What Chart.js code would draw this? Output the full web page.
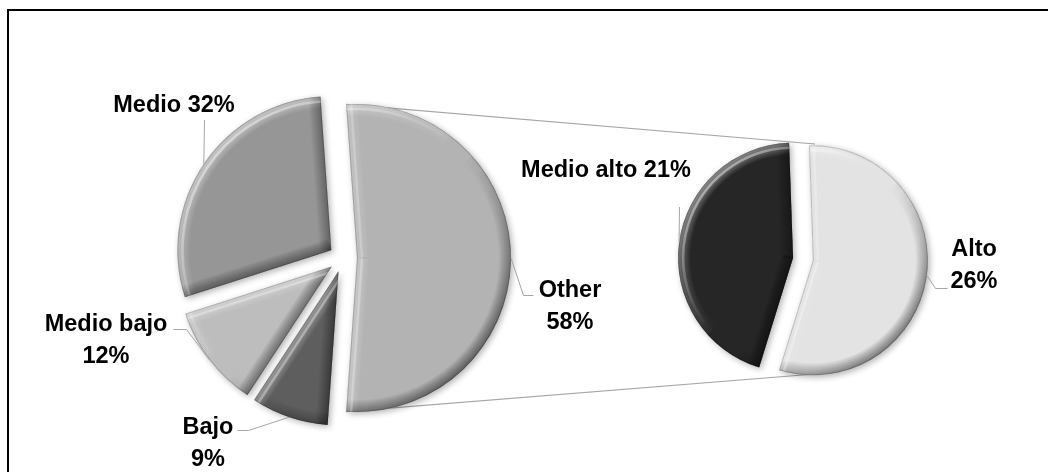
<!DOCTYPE html>
<html>
<head>
<meta charset="utf-8">
<script src="https://cdn.jsdelivr.net/npm/chart.js@4.4.1/dist/chart.umd.min.js"></script>
<style>
  html, body { margin: 0; padding: 0; background: #fff; overflow: hidden; }
  #wrap { position: relative; width: 1048px; height: 472px; overflow: hidden; }
  #wrap canvas { position: absolute; left: 0; top: 0; }
  #frame { position: absolute; left: 7px; top: 9px; width: 1100px; height: 520px; border: 2px solid #000; }
</style>
</head>
<body>
<div id="wrap">
  <div id="frame"></div>
  <canvas id="mainPie" width="1048" height="472"></canvas>
  <canvas id="splitPie" width="1048" height="472"></canvas>
</div>
<script>
// main pie, "Other" gets broken out into the small pie
const mainLabels = ['Other', 'Bajo', 'Medio bajo', 'Medio'];
const mainValues = [58, 9, 12, 32];
const mainColors = ['#b3b3b3', '#5e5e5e', '#bdbdbd', '#969696'];

// breakdown of "Other"
const splitLabels = ['Alto', 'Medio alto'];
const splitValues = [26, 21];
const splitColors = ['#e3e3e3', '#262626'];

const LABEL_FONT = 'bold 23.5px "Liberation Sans", Arial, sans-serif';
const LINE_GREY = '#a6a6a6';

// label spots, one per slice (same order as the labels arrays)
const mainLabelSpots = [
  { x: 570, y: 297, leader: [[523.5, 295.5], [533.5, 295.5]] },
  { x: 208, y: 434, leader: [[248.5, 430.5], [237.5, 430.5]] },
  { x: 106, y: 331, leader: [[186.5, 329.5], [173.5, 329.5]] },
  { x: 174, y: 112, inline: true, leader: [[204.5, 120]] }
];
const splitLabelSpots = [
  { x: 974, y: 256, leader: [[935.5, 288.5], [947.5, 288.5]] },
  { x: 606, y: 177, inline: true, leader: [[679.5, 207]] }
];

// bevel look: light from the upper left on the rim and on both straight edges,
// built up from many thin translucent strokes so the ramp stays soft
const BEVEL_DEPTH = 12;
const BEVEL_STEPS = 12;
const BEVEL_STRENGTH = 0.6;
const GLINT_INSET = 5;

function bevel(ctx, arc) {
  const { x, y, startAngle: a0, endAngle: a1, outerRadius: r } = arc;
  ctx.save();
  ctx.beginPath();
  ctx.moveTo(x, y);
  ctx.arc(x, y, r, a0, a1);
  ctx.closePath();
  ctx.clip();

  const k = r * Math.SQRT1_2;
  const edges = [
    [a0, Math.sin(a0), -Math.cos(a0)],
    [a1, -Math.sin(a1), Math.cos(a1)]
  ];
  const a = BEVEL_STRENGTH / BEVEL_STEPS;
  const rim = ctx.createLinearGradient(x - k, y - k, x + k, y + k);
  rim.addColorStop(0, `rgba(255,255,255,${a})`);
  rim.addColorStop(0.5, 'rgba(255,255,255,0)');
  rim.addColorStop(0.5, 'rgba(0,0,0,0)');
  rim.addColorStop(1, `rgba(0,0,0,${a})`);

  for (let s = BEVEL_STEPS; s >= 1; s--) {
    ctx.lineWidth = 2 * BEVEL_DEPTH * s / BEVEL_STEPS;
    ctx.strokeStyle = rim;
    ctx.beginPath();
    ctx.arc(x, y, r, a0, a1);
    ctx.stroke();
    for (const [ang, nx, ny] of edges) {
      const lit = -(nx + ny) * Math.SQRT1_2;
      ctx.strokeStyle = lit > 0
        ? `rgba(255,255,255,${a * lit * 0.8})`
        : `rgba(0,0,0,${-a * lit * 0.8})`;
      ctx.beginPath();
      ctx.moveTo(x, y);
      ctx.lineTo(x + r * Math.cos(ang), y + r * Math.sin(ang));
      ctx.stroke();
    }
  }

  // thin glint a few pixels inside the lit edges
  const glint = ctx.createLinearGradient(x - k, y - k, x + k, y + k);
  glint.addColorStop(0, 'rgba(255,255,255,0.45)');
  glint.addColorStop(0.45, 'rgba(255,255,255,0)');
  glint.addColorStop(1, 'rgba(255,255,255,0)');
  ctx.lineWidth = 2.5;
  ctx.strokeStyle = glint;
  ctx.beginPath();
  ctx.arc(x, y, r - GLINT_INSET, a0, a1);
  ctx.stroke();
  for (const [ang, nx, ny] of edges) {
    const lit = -(nx + ny) * Math.SQRT1_2;
    if (lit <= 0) continue;
    ctx.strokeStyle = `rgba(255,255,255,${0.35 * lit})`;
    ctx.beginPath();
    ctx.moveTo(x - GLINT_INSET * nx, y - GLINT_INSET * ny);
    ctx.lineTo(x + r * Math.cos(ang) - GLINT_INSET * nx, y + r * Math.sin(ang) - GLINT_INSET * ny);
    ctx.stroke();
  }

  ctx.lineWidth = 2;
  ctx.strokeStyle = 'rgba(0,0,0,0.18)';
  ctx.beginPath();
  ctx.moveTo(x, y);
  ctx.arc(x, y, r, a0, a1);
  ctx.closePath();
  ctx.stroke();
  ctx.restore();
}

const explodePlugin = {
  id: 'explode',
  afterUpdate(chart, args, opts) {
    const { left, right, top, bottom } = chart.chartArea;
    const cx = (left + right) / 2, cy = (top + bottom) / 2;
    chart.getDatasetMeta(0).data.forEach(arc => {
      const mid = (arc.startAngle + arc.endAngle) / 2;
      arc.x = cx + opts.distance * Math.cos(mid);
      arc.y = cy + opts.distance * Math.sin(mid);
    });
  },
  beforeDatasetsDraw(chart) {
    const ctx = chart.ctx;
    ctx.save();
    ctx.shadowColor = 'rgba(0,0,0,0.3)';
    ctx.shadowBlur = 6;
    ctx.shadowOffsetX = 2;
    ctx.shadowOffsetY = 2;
  },
  afterDatasetsDraw(chart) {
    const ctx = chart.ctx;
    ctx.restore();
    chart.getDatasetMeta(0).data.forEach(arc => bevel(ctx, arc));
  }
};

const labelPlugin = {
  id: 'sliceLabels',
  afterDraw(chart, args, opts) {
    const ctx = chart.ctx;
    const names = chart.data.labels;
    const values = chart.data.datasets[0].data;
    ctx.save();
    chart.getDatasetMeta(0).data.forEach((arc, i) => {
      const spot = opts.spots[i];
      const mid = (arc.startAngle + arc.endAngle) / 2;
      const r = arc.outerRadius;
      ctx.strokeStyle = LINE_GREY;
      ctx.lineWidth = 1;
      ctx.beginPath();
      ctx.moveTo(arc.x + r * Math.cos(mid), arc.y + r * Math.sin(mid));
      spot.leader.forEach(([lx, ly]) => ctx.lineTo(lx, ly));
      ctx.stroke();

      ctx.fillStyle = '#000';
      ctx.font = LABEL_FONT;
      ctx.textAlign = 'center';
      ctx.textBaseline = 'alphabetic';
      const pct = values[i] + '%';
      if (spot.inline) {
        ctx.fillText(names[i] + ' ' + pct, spot.x, spot.y);
      } else {
        ctx.fillText(names[i], spot.x, spot.y);
        ctx.fillText(pct, spot.x, spot.y + 32);
      }
    });
    ctx.restore();
  }
};

// the small pie is built first so the big one can link to it
const splitChart = new Chart(document.getElementById('splitPie'), {
  type: 'pie',
  data: {
    labels: splitLabels,
    datasets: [{ data: splitValues, backgroundColor: splitColors, borderWidth: 0 }]
  },
  options: {
    responsive: false,
    animation: false,
    events: [],
    radius: 115,
    rotation: -2,
    layout: { padding: { left: 558, top: 46 } },
    plugins: {
      legend: { display: false },
      tooltip: { enabled: false },
      explode: { distance: 10 },
      sliceLabels: { spots: splitLabelSpots }
    }
  },
  plugins: [explodePlugin, labelPlugin]
});

// grey lines from the "Other" slice corners to the top and bottom of the small pie
const connectorPlugin = {
  id: 'connectors',
  beforeDatasetsDraw(chart) {
    const ctx = chart.ctx;
    const other = chart.getDatasetMeta(0).data[0];
    const r = other.outerRadius;
    const area = splitChart.chartArea;
    const sx = (area.left + area.right) / 2;
    const sy = (area.top + area.bottom) / 2;
    const sr = splitChart.getDatasetMeta(0).data[0].outerRadius;
    ctx.save();
    ctx.strokeStyle = LINE_GREY;
    ctx.lineWidth = 1.2;
    ctx.beginPath();
    ctx.moveTo(other.x + r * Math.cos(other.startAngle), other.y + r * Math.sin(other.startAngle));
    ctx.lineTo(sx + 12, sy - sr);
    ctx.moveTo(other.x + r * Math.cos(other.endAngle), other.y + r * Math.sin(other.endAngle));
    ctx.lineTo(sx + 12, sy + sr);
    ctx.stroke();
    ctx.restore();
  }
};

const mainTotal = mainValues.reduce((a, b) => a + b, 0);
const otherSweep = mainValues[0] / mainTotal * 360;

new Chart(document.getElementById('mainPie'), {
  type: 'pie',
  data: {
    labels: mainLabels,
    datasets: [{ data: mainValues, backgroundColor: mainColors, borderWidth: 0 }]
  },
  options: {
    responsive: false,
    animation: false,
    events: [],
    radius: 154,
    rotation: 90 - otherSweep / 2,
    layout: { padding: { right: 362, top: 44 } },
    plugins: {
      legend: { display: false },
      tooltip: { enabled: false },
      explode: { distance: 14 },
      sliceLabels: { spots: mainLabelSpots }
    }
  },
  plugins: [connectorPlugin, explodePlugin, labelPlugin]
});
</script>
</body>
</html>
